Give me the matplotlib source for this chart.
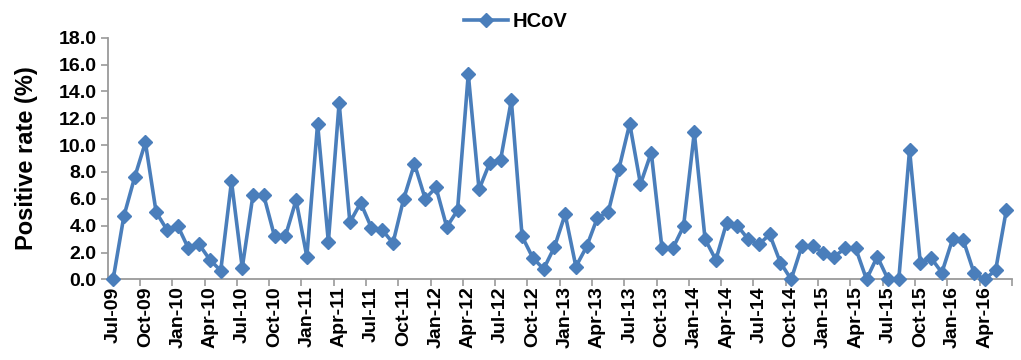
import matplotlib
matplotlib.use("Agg")
import matplotlib.pyplot as plt
import numpy as np

plt.rcParams['font.family'] = ['Liberation Sans', 'DejaVu Sans']
plt.rcParams['font.weight'] = 'bold'

# monthly HCoV positive rate, Jul-09 .. Jun-16
hcov = [
    0.0, 4.7, 7.6, 10.2, 5.0, 3.7, 4.0, 2.3, 2.6, 1.45, 0.65, 7.3,
    0.87, 6.3, 6.25, 3.2, 3.2, 5.9, 1.7, 11.6, 2.8, 13.15, 4.25, 5.7,
    3.85, 3.7, 2.7, 6.0, 8.6, 6.0, 6.85, 3.9, 5.15, 15.3, 6.7, 8.7,
    8.9, 13.35, 3.2, 1.6, 0.77, 2.4, 4.85, 0.95, 2.45, 4.6, 5.0, 8.25,
    11.6, 7.1, 9.45, 2.3, 2.3, 3.95, 10.95, 3.0, 1.45, 4.2, 4.0, 3.0,
    2.6, 3.35, 1.25, 0.0, 2.5, 2.45, 2.0, 1.7, 2.3, 2.3, 0.0, 1.7,
    0.0, 0.0, 9.65, 1.2, 1.6, 0.5, 3.0, 2.9, 0.45, 0.0, 0.7, 5.2,
]
tick_labels = [
    'Jul-09', 'Oct-09', 'Jan-10', 'Apr-10', 'Jul-10', 'Oct-10', 'Jan-11',
    'Apr-11', 'Jul-11', 'Oct-11', 'Jan-12', 'Apr-12', 'Jul-12', 'Oct-12',
    'Jan-13', 'Apr-13', 'Jul-13', 'Oct-13', 'Jan-14', 'Apr-14', 'Jul-14',
    'Oct-14', 'Jan-15', 'Apr-15', 'Jul-15', 'Oct-15', 'Jan-16', 'Apr-16',
]

blue = '#4a7ebb'
grey = '#9a9a9a'

x = np.arange(len(hcov))

fig = plt.figure(figsize=(10.21, 3.6), dpi=100)
ax = fig.add_axes([0.1055, 0.224, 0.8855, 0.671])

ax.plot(x, hcov, color=blue, lw=2.6, marker='D', markersize=7.5,
        markeredgecolor=blue, label='HCoV', clip_on=False, zorder=3)

ax.set_xlim(-0.5, len(hcov) - 0.5)
ax.set_ylim(0, 18)
ax.set_yticks(np.arange(0, 18.1, 2))
ax.set_yticklabels([f'{v:.1f}' for v in np.arange(0, 18.1, 2)])

# labels on every third month, tick marks between categories
ax.set_xticks(np.arange(0, len(hcov), 3))
ax.set_xticklabels(tick_labels, rotation=90)
ax.set_xticks(np.arange(2.5, len(hcov), 3), minor=True)
ax.tick_params(axis='x', which='major', length=0, pad=5, labelsize=14)
ax.tick_params(axis='x', which='minor', length=5, width=1.2, color=grey)
ax.tick_params(axis='y', length=5, width=1.2, color=grey, labelsize=14, pad=3)

for side in ['top', 'right']:
    ax.spines[side].set_visible(False)
for side in ['left', 'bottom']:
    ax.spines[side].set_color(grey)
    ax.spines[side].set_linewidth(1.3)

ax.set_ylabel('Positive rate (%)', fontsize=17, fontweight='bold', labelpad=15)

fig.legend(loc='center', bbox_to_anchor=(0.505, 0.94), frameon=False,
           fontsize=14.5, handlelength=2.2, handletextpad=0.2)

fig.savefig('out.png', dpi=100)
